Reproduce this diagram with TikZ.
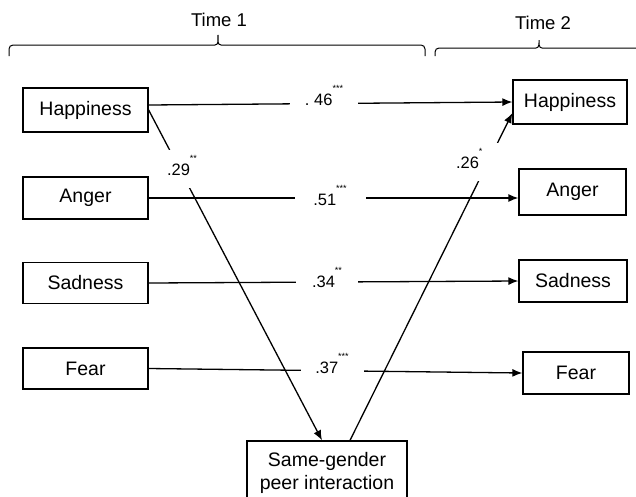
\documentclass[tikz,border=0pt]{standalone}
\usepackage{fontspec}
\setmainfont{Liberation Sans}
\usetikzlibrary{arrows.meta}
\newcommand{\sig}[1]{\raisebox{14pt}{\fontsize{9}{9}\selectfont #1}}
% bracket over a time point: (left,right,tip)(line y,tip y,end y)
\def\timebrace(#1,#2,#3)(#4,#5,#6){\draw[bracket] (#1,#6) -- (#1,#4+4) to[out=90,in=180] (#1+4,#4) -- (#3-3,#4) to[out=0,in=-90] (#3,#5) to[out=-90,in=180] (#3+3,#4) -- (#2-4,#4) to[out=0,in=90] (#2,#4+4) -- (#2,#6);}
\tikzset{
  emobox/.style={draw, line width=1.3pt, inner sep=0pt, align=center, font=\fontsize{19.5}{23}\selectfont},
  coef/.style={fill=white, inner xsep=2pt, inner ysep=4pt, text height=12pt, text depth=0pt, anchor=base, font=\fontsize{16.5}{18}\selectfont},
  link/.style={line width=1.3pt, -{Latex[length=10pt,width=8pt]}},
  bracket/.style={line width=1pt},
}

\begin{document}
\begin{tikzpicture}[x=1pt,y=-1pt]
  %%%%% START %%%%%
  \useasboundingbox (0,0) rectangle (636,496);

  % time braces
  \timebrace(9,425,218)(45,35,56)
  \timebrace(435,643,539)(48,40,56)
  \node[font=\fontsize{18.5}{20}\selectfont] (time1) at (219,20) {Time 1};
  \node[font=\fontsize{18.5}{20}\selectfont] (time2) at (543,23) {Time 2};

  % time 1 emotions
  \node[emobox, minimum width=125pt, minimum height=44pt] (hap1) at (85.5,110) {Happiness};
  \node[emobox, minimum width=125pt, minimum height=42pt] (ang1) at (85.5,198) {Anger};
  \node[emobox, minimum width=125pt, minimum height=41pt] (sad1) at (85.5,283) {Sadness};
  \node[emobox, minimum width=125pt, minimum height=41pt] (fear1) at (85.5,368.5) {Fear};

  % time 2 emotions
  \node[emobox, minimum width=114pt, minimum height=44pt] (hap2) at (570,102) {Happiness};
  \node[emobox, minimum width=107pt, minimum height=46pt] (ang2) at (572.5,192) {Anger};
  \node[emobox, minimum width=108pt, minimum height=42pt] (sad2) at (573,281) {Sadness};
  \node[emobox, minimum width=106pt, minimum height=42pt] (fear2) at (576,373) {Fear};

  % peer interaction
  \node[emobox, minimum width=160pt, minimum height=64pt] (peer) at (327,473) {Same-gender\\peer interaction};

  % stability paths
  \draw[link] ([yshift=5pt]hap1.east) -- (hap2.west);
  \draw[link] (ang1.east) -- (ang1.east -| ang2.west);
  \draw[link] (sad1.east) -- (sad2.west);
  \draw[link] (fear1.east) -- (fear2.west);

  % cross paths
  \draw[link] (hap1.east) -- ([xshift=-5pt]peer.north);
  \draw[link] ([xshift=23pt]peer.north) -- ([yshift=-11pt]hap2.west);

  % coefficients
  \node[coef, minimum width=68pt] (c46) at (324,105) {.\ 46\sig{***}};
  \node[coef, minimum width=71pt] (c51) at (330,205) {.51\sig{***}};
  \node[coef, minimum width=62pt] (c34) at (327,287) {.34\sig{**}};
  \node[coef, minimum width=63pt] (c37) at (332,373) {.37\sig{***}};
  \node[coef, inner ysep=13pt] (c29) at (182,175) {.29\sig{**}};
  \node[coef, inner ysep=13pt, text width=42pt, align=left] (c26) at (477,168) {.26\sig{*}};
  %%%%% END %%%%%
\end{tikzpicture}
\end{document}
